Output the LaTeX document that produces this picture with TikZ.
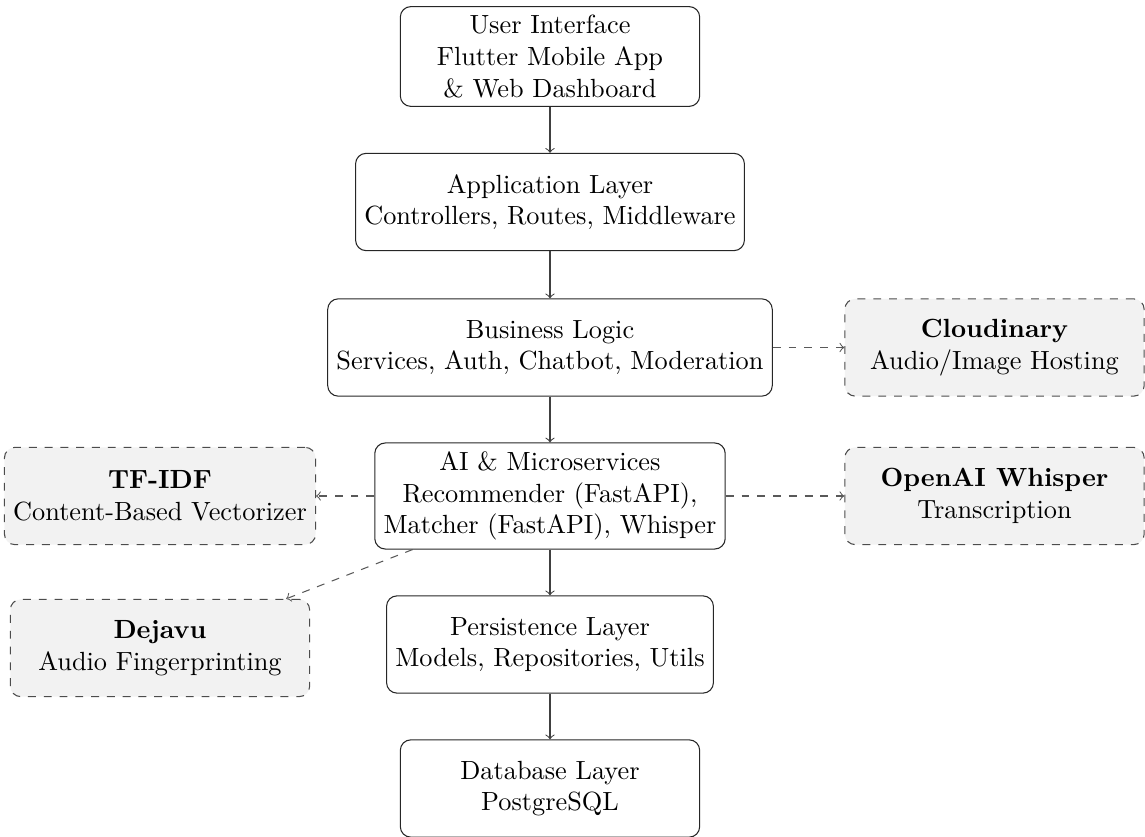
\documentclass[tikz,border=0pt]{standalone}
\begin{document}
\begin{tikzpicture}[x=0.3802pt,y=-0.3802pt,
  layerbox/.style={draw=black!85, rounded corners=4pt, align=center, minimum width=4cm, minimum height=1.3cm},
  extbox/.style={draw=black!70, dashed, rounded corners=4pt, fill=gray!10, align=center, minimum width=4cm, minimum height=1.3cm},
  flow/.style={->, draw=black!75},
  dep/.style={->, dashed, draw=black!65}]
\useasboundingbox (0,0) rectangle (1145,837);
\node[layerbox] (ui) at (550,56.5) {User Interface\\Flutter Mobile App\\\& Web Dashboard};
\node[layerbox] (app) at (550,202) {Application Layer\\Controllers, Routes, Middleware};
\node[layerbox] (bus) at (550,347.5) {Business Logic\\Services, Auth, Chatbot, Moderation};
\node[layerbox] (ai) at (550,496) {AI \& Microservices\\Recommender (FastAPI),\\Matcher (FastAPI), Whisper};
\node[layerbox] (per) at (550,644.5) {Persistence Layer\\Models, Repositories, Utils};
\node[layerbox] (db) at (550,788.5) {Database Layer\\PostgreSQL};
\node[extbox] (cloud) at (994.5,347.5) {\textbf{Cloudinary}\\Audio/Image Hosting};
\node[extbox] (tfidf) at (160,496) {\textbf{TF-IDF}\\Content-Based Vectorizer};
\node[extbox] (whisper) at (994.5,496) {\textbf{OpenAI Whisper}\\Transcription};
\node[extbox] (dejavu) at (160,648) {\textbf{Dejavu}\\Audio Fingerprinting};
\draw[flow] (ui) -- (app);
\draw[flow] (app) -- (bus);
\draw[flow] (bus) -- (ai);
\draw[flow] (ai) -- (per);
\draw[flow] (per) -- (db);
\draw[dep] (bus) -- (cloud);
\draw[dep] (ai) -- (tfidf);
\draw[dep] (ai) -- (whisper);
\draw[dep] (ai) -- (dejavu);
\end{tikzpicture}
\end{document}
